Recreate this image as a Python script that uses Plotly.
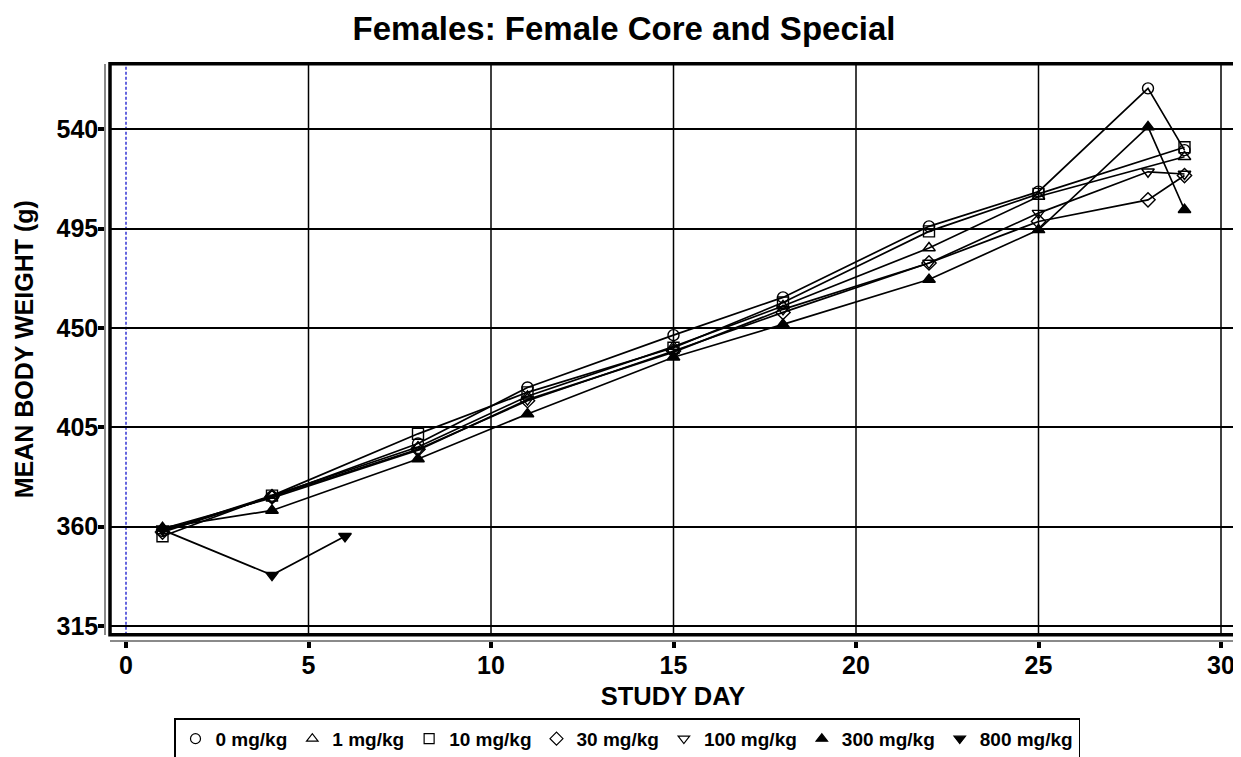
import plotly.graph_objects as go

# ---- data ----
GROUPS = ["0 mg/kg", "1 mg/kg", "10 mg/kg", "30 mg/kg", "100 mg/kg", "300 mg/kg", "800 mg/kg"]
SYMBOLS = ["circle-open", "triangle-up-open", "square-open", "diamond-open",
           "triangle-down-open", "triangle-up", "triangle-down"]

days_0 = [1, 4, 8, 11, 15, 18, 22, 25, 28, 29]
wt_0 = [358.0, 373.5, 397.6, 423.0, 446.7, 463.8, 496.0, 511.7, 558.5, 530.5]

days_1 = [1, 4, 8, 11, 15, 18, 22, 25, 29]
wt_1 = [358.0, 374.0, 396.0, 419.0, 441.5, 459.9, 486.2, 509.5, 527.5]

days_10 = [1, 4, 8, 11, 15, 18, 22, 25, 29]
wt_10 = [355.6, 374.0, 402.0, 420.8, 441.0, 461.5, 493.7, 510.7, 531.8]

days_30 = [1, 4, 8, 11, 15, 18, 22, 25, 28, 29]
wt_30 = [357.5, 373.5, 395.0, 417.0, 439.5, 457.0, 479.4, 498.2, 508.0, 519.0]

days_100 = [1, 4, 8, 11, 15, 18, 22, 25, 28, 29]
wt_100 = [359.0, 373.0, 394.6, 417.5, 439.0, 458.4, 479.4, 502.0, 520.7, 519.7]

days_300 = [1, 4, 8, 11, 15, 18, 22, 25, 28, 29]
wt_300 = [359.5, 367.3, 390.6, 411.0, 436.7, 451.6, 471.9, 494.4, 541.0, 503.5]

days_800 = [1, 4, 6]
wt_800 = [358.5, 338.0, 355.6]

SERIES_DAYS = [days_0, days_1, days_10, days_30, days_100, days_300, days_800]
SERIES_WT = [wt_0, wt_1, wt_10, wt_30, wt_100, wt_300, wt_800]

X_TICKS = [0, 5, 10, 15, 20, 25, 30]
X_GRID = [5, 10, 15, 20, 25, 30]
Y_TICKS = [315, 360, 405, 450, 495, 540]

TITLE = "Females: Female Core and Special"
X_TITLE = "STUDY DAY"
Y_TITLE = "MEAN BODY WEIGHT (g)"

# ---- figure ----
W, H = 1241, 757
OFF = 8  # page body margin offset
FONT = "Liberation Sans, Arial, Helvetica, sans-serif"

fig = go.Figure()
for name, sym, dx, wy in zip(GROUPS, SYMBOLS, SERIES_DAYS, SERIES_WT):
    fig.add_trace(go.Scatter(
        x=dx, y=wy, mode="lines+markers", name=name, showlegend=False,
        line=dict(color="black", width=1.7),
        marker=dict(symbol=sym, size=11, color="black", line=dict(color="black", width=1.4)),
    ))
# legend-only entries (markers only, as in the reference legend)
for name, sym in zip(GROUPS, SYMBOLS):
    fig.add_trace(go.Scatter(
        x=[None], y=[None], mode="markers", name=name, showlegend=True,
        marker=dict(symbol=sym, size=10, color="black", line=dict(color="black", width=1.2)),
    ))


def px_x(p):
    return (p - OFF) / W


def px_y(p):
    return (H - (p - OFF)) / H


shapes = []
# vertical grid lines (not at day 0)
for g in X_GRID:
    shapes.append(dict(type="line", xref="x", yref="y domain", x0=g, x1=g, y0=0, y1=1,
                       line=dict(color="black", width=1.5), layer="below"))
# blue dashed reference line at day 0
shapes.append(dict(type="line", xref="x", yref="y domain", x0=0, x1=0, y0=0, y1=1,
                   line=dict(color="#0000c8", width=1.2, dash="3px,2px"), layer="below"))
# thick frame
shapes.append(dict(type="rect", xref="x domain", yref="y domain", x0=0, x1=1, y0=0, y1=1,
                   line=dict(color="black", width=3.5), layer="above"))

fig.update_layout(
    width=W, height=H,
    margin=dict(l=0, r=0, t=0, b=0),
    paper_bgcolor="white", plot_bgcolor="white",
    font=dict(family=FONT, color="black", size=20, weight="bold"),
    title=dict(text=TITLE, x=px_x(624), xanchor="center", y=px_y(28), yanchor="middle",
               font=dict(family=FONT, size=33, color="black", weight="bold")),
    xaxis=dict(
        domain=[px_x(110), px_x(1236)], range=[-(126 - 110) / 36.5, (1236 - 126) / 36.5],
        tickvals=X_TICKS, showgrid=False, zeroline=False,
        showline=True, linecolor="#8a8a8a", linewidth=1.5,
        anchor="free", position=px_y(645),
        ticks="outside", ticklen=6, tickwidth=3.5, tickcolor="black",
        ticklabelstandoff=-4,
        tickfont=dict(family=FONT, size=25, color="black", weight="bold"),
        title=dict(text=X_TITLE, standoff=9,
                   font=dict(family=FONT, size=25.5, color="black", weight="bold")),
    ),
    yaxis=dict(
        domain=[px_y(639), px_y(64)], range=[310.95, 569.7],
        tickvals=Y_TICKS, showgrid=True, gridcolor="black", gridwidth=1.5, zeroline=False,
        showline=True, linecolor="#8a8a8a", linewidth=1.5,
        anchor="free", position=px_x(105),
        ticks="outside", ticklen=6, tickwidth=4, tickcolor="black",
        ticklabelstandoff=-5,
        tickfont=dict(family=FONT, size=25, color="black", weight="bold"),
        title=dict(text=Y_TITLE, standoff=15,
                   font=dict(family=FONT, size=25, color="black", weight="bold")),
    ),
    shapes=shapes,
    legend=dict(
        orientation="h", x=px_x(627), xanchor="center", y=px_y(723), yanchor="top",
        bordercolor="black", borderwidth=1.5, bgcolor="white",
        font=dict(family=FONT, size=19, color="black", weight="bold"),
        itemwidth=30, tracegroupgap=0, itemclick=False,
    ),
)

fig.write_html("out.html")
